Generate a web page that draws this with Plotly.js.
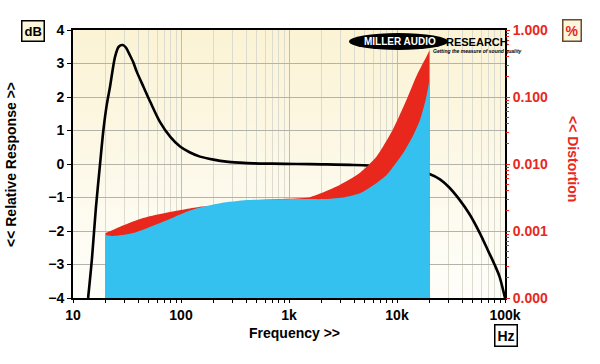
<!DOCTYPE html>
<html>
<head>
<meta charset="utf-8">
<script src="https://cdn.plot.ly/plotly-3.0.1.min.js"></script>
<style>html,body{margin:0;padding:0;background:#fff;}#chart{width:600px;height:364px;}</style>
</head>
<body>
<div id="chart"></div>
<script>
// Frequency response (dB, left axis)
const respFreq = [13.8, 15, 16.3, 17.8, 19.1, 20.5, 22, 24.5, 26.5, 28.9, 31, 33, 36, 39, 45, 52, 64, 80, 98, 120, 150, 200, 263, 350, 467, 700, 1170, 2000, 4000, 7900, 12000, 16000, 20000, 25000, 30000, 38000, 47000, 58600, 70000, 80000, 89000, 100000];
const respDb   = [-4.0, -2.8, -1.3, 0.0, 1.0, 1.75, 2.3, 3.2, 3.5, 3.55, 3.47, 3.3, 3.05, 2.75, 2.3, 1.85, 1.25, 0.8, 0.52, 0.35, 0.22, 0.13, 0.07, 0.04, 0.02, 0.01, 0.0, -0.01, -0.03, -0.08, -0.14, -0.22, -0.3, -0.46, -0.68, -1.07, -1.5, -2.07, -2.6, -3.0, -3.36, -4.0];

// Distortion (%, right log axis)
const redFreq = [20, 27, 44.5, 79, 150, 215, 400, 826, 1565, 2760, 4540, 6470, 9180, 12400, 15300, 19000, 20000];
const redPct  = [0.00093, 0.00115, 0.00156, 0.00192, 0.0023, 0.00245, 0.0028, 0.0030, 0.0032, 0.0046, 0.0074, 0.0129, 0.033, 0.095, 0.213, 0.42, 0.5];
const blueFreq = [20, 23.5, 36, 64, 129, 230, 407, 650, 1200, 2200, 3300, 4540, 6470, 8040, 11400, 14000, 16300, 18400, 20000];
const bluePct  = [0.00087, 0.00084, 0.00093, 0.00132, 0.0021, 0.0026, 0.0029, 0.00295, 0.0030, 0.0030, 0.0032, 0.00365, 0.0052, 0.0069, 0.0146, 0.026, 0.045, 0.09, 0.18];
const distFloor = 0.0001;

// Tick labels
const xTickVals = [10, 100, 1000, 10000, 100000];
const xTickText = ['10', '100', '1k', '10k', '100k'];
const y2TickVals = [0.0001, 0.001, 0.01, 0.1, 1];
const y2TickText = ['0.000', '0.001', '0.010', '0.100', '1.000'];

const FONT = 'Liberation Sans, Arial, sans-serif';

function floorTrace(fx) {
  return {x: [fx[0], fx[fx.length - 1]], y: [distFloor, distFloor], yaxis: 'y2', type: 'scatter',
          mode: 'lines', line: {width: 0}, hoverinfo: 'skip'};
}
function areaTrace(fx, fy, color) {
  return {x: fx, y: fy, yaxis: 'y2', type: 'scatter', mode: 'lines', fill: 'tonexty',
          fillcolor: color, line: {width: 0, color: color, shape: 'spline', smoothing: 0.6}, hoverinfo: 'skip'};
}

const traces = [
  floorTrace(redFreq),
  areaTrace(redFreq, redPct, '#e8281c'),
  floorTrace(blueFreq),
  areaTrace(blueFreq, bluePct, '#35c1ef'),
  {x: respFreq, y: respDb, type: 'scatter', mode: 'lines',
   line: {color: '#000', width: 2.6, shape: 'spline', smoothing: 0.8}, hoverinfo: 'skip'}
];

const grad = 'data:image/svg+xml;utf8,' + encodeURIComponent(
  '<svg xmlns="http://www.w3.org/2000/svg" width="10" height="100" preserveAspectRatio="none">' +
  '<defs><linearGradient id="g" x1="0" y1="0" x2="0" y2="1">' +
  '<stop offset="0" stop-color="#fbf3d4"/><stop offset="0.55" stop-color="#fdf9ea"/><stop offset="1" stop-color="#fefefa"/>' +
  '</linearGradient></defs><rect width="10" height="100" fill="url(#g)"/></svg>');

function px(x) { return (x - 73) / 432; }
function py(y) { return (298 - y) / 268; }

const layout = {
  width: 600, height: 364,
  margin: {l: 73, r: 95, t: 30, b: 66, pad: 0},
  paper_bgcolor: '#ffffff',
  plot_bgcolor: 'rgba(0,0,0,0)',
  showlegend: false,
  font: {family: FONT, color: '#000'},
  images: [{source: grad, xref: 'paper', yref: 'paper', x: 0, y: 1, sizex: 1, sizey: 1,
            sizing: 'stretch', xanchor: 'left', yanchor: 'top', layer: 'below'}],
  xaxis: {
    type: 'log', range: [1, 5],
    tickmode: 'array', tickvals: xTickVals, ticktext: xTickText,
    ticks: 'outside', ticklen: 3, tickwidth: 1, tickcolor: '#000',
    tickfont: {family: FONT, size: 14, weight: 'bold', color: '#000'},
    showgrid: true, gridcolor: '#bdbdb5', gridwidth: 1,
    minor: {dtick: 'D1', showgrid: true, gridcolor: '#dcdbd0', gridwidth: 1, ticks: 'outside', ticklen: 3, tickcolor: '#000'},
    showline: true, linecolor: '#000', linewidth: 2, mirror: true,
    zeroline: false, fixedrange: true
  },
  yaxis: {
    range: [-4, 4], dtick: 1, tick0: 0,
    ticks: 'outside', ticklen: 4, tickwidth: 1, tickcolor: '#000',
    tickfont: {family: FONT, size: 14, weight: 'bold', color: '#000'},
    showgrid: true, gridcolor: '#b3b3ab', gridwidth: 1,
    showline: true, linecolor: '#000', linewidth: 2, mirror: true,
    zeroline: false, fixedrange: true
  },
  yaxis2: {
    overlaying: 'y', side: 'right', type: 'log', range: [-4, 0],
    tickmode: 'array', tickvals: y2TickVals, ticktext: y2TickText,
    ticks: 'outside', ticklen: 4, tickwidth: 1, tickcolor: '#e8281c',
    tickfont: {family: FONT, size: 14, weight: 'bold', color: '#e8281c'},
    minor: {dtick: 'D1', ticks: 'outside', ticklen: 3, tickcolor: '#e8281c', showgrid: false},
    showgrid: false, zeroline: false, showline: false, fixedrange: true
  },
  shapes: [
    {type: 'circle', xref: 'paper', yref: 'paper', x0: px(349), x1: px(448), y0: py(50), y1: py(33),
     fillcolor: '#000', line: {width: 0}, layer: 'above'}
  ],
  annotations: [
    {text: '<b>dB</b>', xref: 'paper', yref: 'paper', x: px(33), y: py(31), xanchor: 'center', yanchor: 'middle',
     showarrow: false, font: {family: FONT, size: 13, color: '#000'}, bgcolor: '#fcf6dc', bordercolor: '#000', borderwidth: 1.5, borderpad: 2},
    {text: '<b>%</b>', xref: 'paper', yref: 'paper', x: px(572), y: py(30), xanchor: 'center', yanchor: 'middle',
     showarrow: false, font: {family: FONT, size: 14, color: '#e8281c'}, bgcolor: '#fcf6dc', bordercolor: '#6b4a2a', borderwidth: 1.5, borderpad: 2},
    {text: '<b>Hz</b>', xref: 'paper', yref: 'paper', x: px(506), y: py(335), xanchor: 'center', yanchor: 'middle',
     showarrow: false, font: {family: FONT, size: 14, color: '#000'}, bgcolor: '#ffffff', bordercolor: '#000', borderwidth: 1.5, borderpad: 2},
    {text: '<b>Frequency &gt;&gt;</b>', xref: 'paper', yref: 'paper', x: px(294), y: py(333), xanchor: 'center', yanchor: 'middle',
     showarrow: false, font: {family: FONT, size: 14, color: '#000'}},
    {text: '<b>&lt;&lt; Relative Response &gt;&gt;</b>', xref: 'paper', yref: 'paper', x: px(11), y: py(165), xanchor: 'center', yanchor: 'middle',
     textangle: -90, showarrow: false, font: {family: FONT, size: 14, color: '#000'}},
    {text: '<b>&lt;&lt; Distortion</b>', xref: 'paper', yref: 'paper', x: px(573), y: py(159), xanchor: 'center', yanchor: 'middle',
     textangle: 90, showarrow: false, font: {family: FONT, size: 14, color: '#e8281c'}},
    {text: '<b>MILLER AUDIO</b>', xref: 'paper', yref: 'paper', x: px(400), y: py(41.5), xanchor: 'center', yanchor: 'middle',
     showarrow: false, font: {family: FONT, size: 10, color: '#fff'}},
    {text: '<b>RESEARCH</b>', xref: 'paper', yref: 'paper', x: px(477), y: py(41.5), xanchor: 'center', yanchor: 'middle',
     showarrow: false, font: {family: FONT, size: 11, color: '#000'}},
    {text: '<b><i>Getting the measure of sound quality</i></b>', xref: 'paper', yref: 'paper', x: px(477), y: py(50.5), xanchor: 'center', yanchor: 'middle',
     showarrow: false, font: {family: FONT, size: 5, color: '#000'}}
  ]
};

Plotly.newPlot('chart', traces, layout, {displayModeBar: false, staticPlot: true});
</script>
</body>
</html>
